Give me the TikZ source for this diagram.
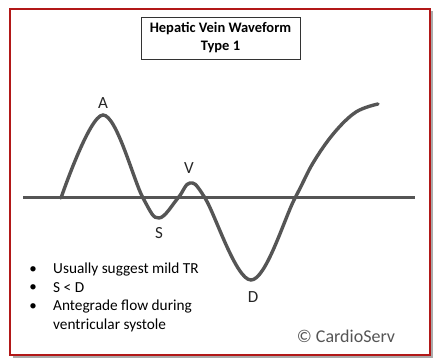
\documentclass[tikz,border=0pt]{standalone}
\usepackage{fontspec}
\setmainfont{Carlito}
\usepackage{tikz}
\usetikzlibrary{positioning}
\definecolor{framered}{RGB}{178, 24, 24}
\definecolor{wavegray}{RGB}{85, 85, 85}
\definecolor{shadowgray}{RGB}{170, 170, 170}

\begin{document}
\begin{tikzpicture}[
    x=1pt, y=1pt,
    titlebox/.style={draw=black!80, line width=0.9pt, minimum width=159pt,
                 minimum height=42pt, align=center, font=\bfseries\fontsize{14.5}{18}\selectfont,
                 inner sep=0pt},
    peak/.style={font=\fontsize{17}{17}\selectfont, text=black!85, inner sep=0pt},
    bullet/.style={font=\fontsize{15}{15}\selectfont, inner sep=0pt},
    note/.style={font=\fontsize{15.3}{15.3}\selectfont, anchor=west, inner sep=0pt},
    wave/.style={draw=wavegray, line width=3.4pt, line cap=round},
  ]
    \useasboundingbox (0,0) rectangle (441,363);
    \fill[white] (0,0) rectangle (441,363);

    % Frame with shadow
    \fill[shadowgray] (13,5) rectangle (433,352);
    \draw[framered, line width=2pt, fill=white] (10,8) rectangle (430,354);

    % Title
    \node[titlebox] (title) at (220.5,325) {Hepatic Vein Waveform\\Type 1};

    % Baseline
    \coordinate (left) at (23,165);
    \coordinate (right) at (415,165);
    \draw[wave, line width=3pt, line cap=butt] (left) -- (right);

    % Waveform
    \draw[wave] plot[smooth, tension=0.6] coordinates {
      (61,165) (103,248) (143,165) (159,145) (178,165) (190,180)
      (205,165) (251,83) (295,165) (313,200) (334,230) (356,251) (378,259)};

    % Wave labels
    \node[peak] (a) at (103,260) {A};
    \node[peak] (s) at (159,130) {S};
    \node[peak] (v) at (189,195) {V};
    \node[peak] (d) at (253,66) {D};

    % Notes
    \node[bullet] (b1) at (33,93) {•};
    \node[note] (n1) at (53,93) {Usually suggest mild TR};
    \node[bullet] (b2) at (33,75) {•};
    \node[note] (n2) at (53,75) {S < D};
    \node[bullet] (b3) at (33,56) {•};
    \node[note] (n3) at (53,56) {Antegrade flow during};
    \node[note] (n4) at (53,38) {ventricular systole};

    % Copyright
    \node[font=\fontsize{18}{18}\selectfont, text=wavegray, inner sep=0pt]
      (copy) at (346,27) {© CardioServ};
  \end{tikzpicture}
\end{document}
